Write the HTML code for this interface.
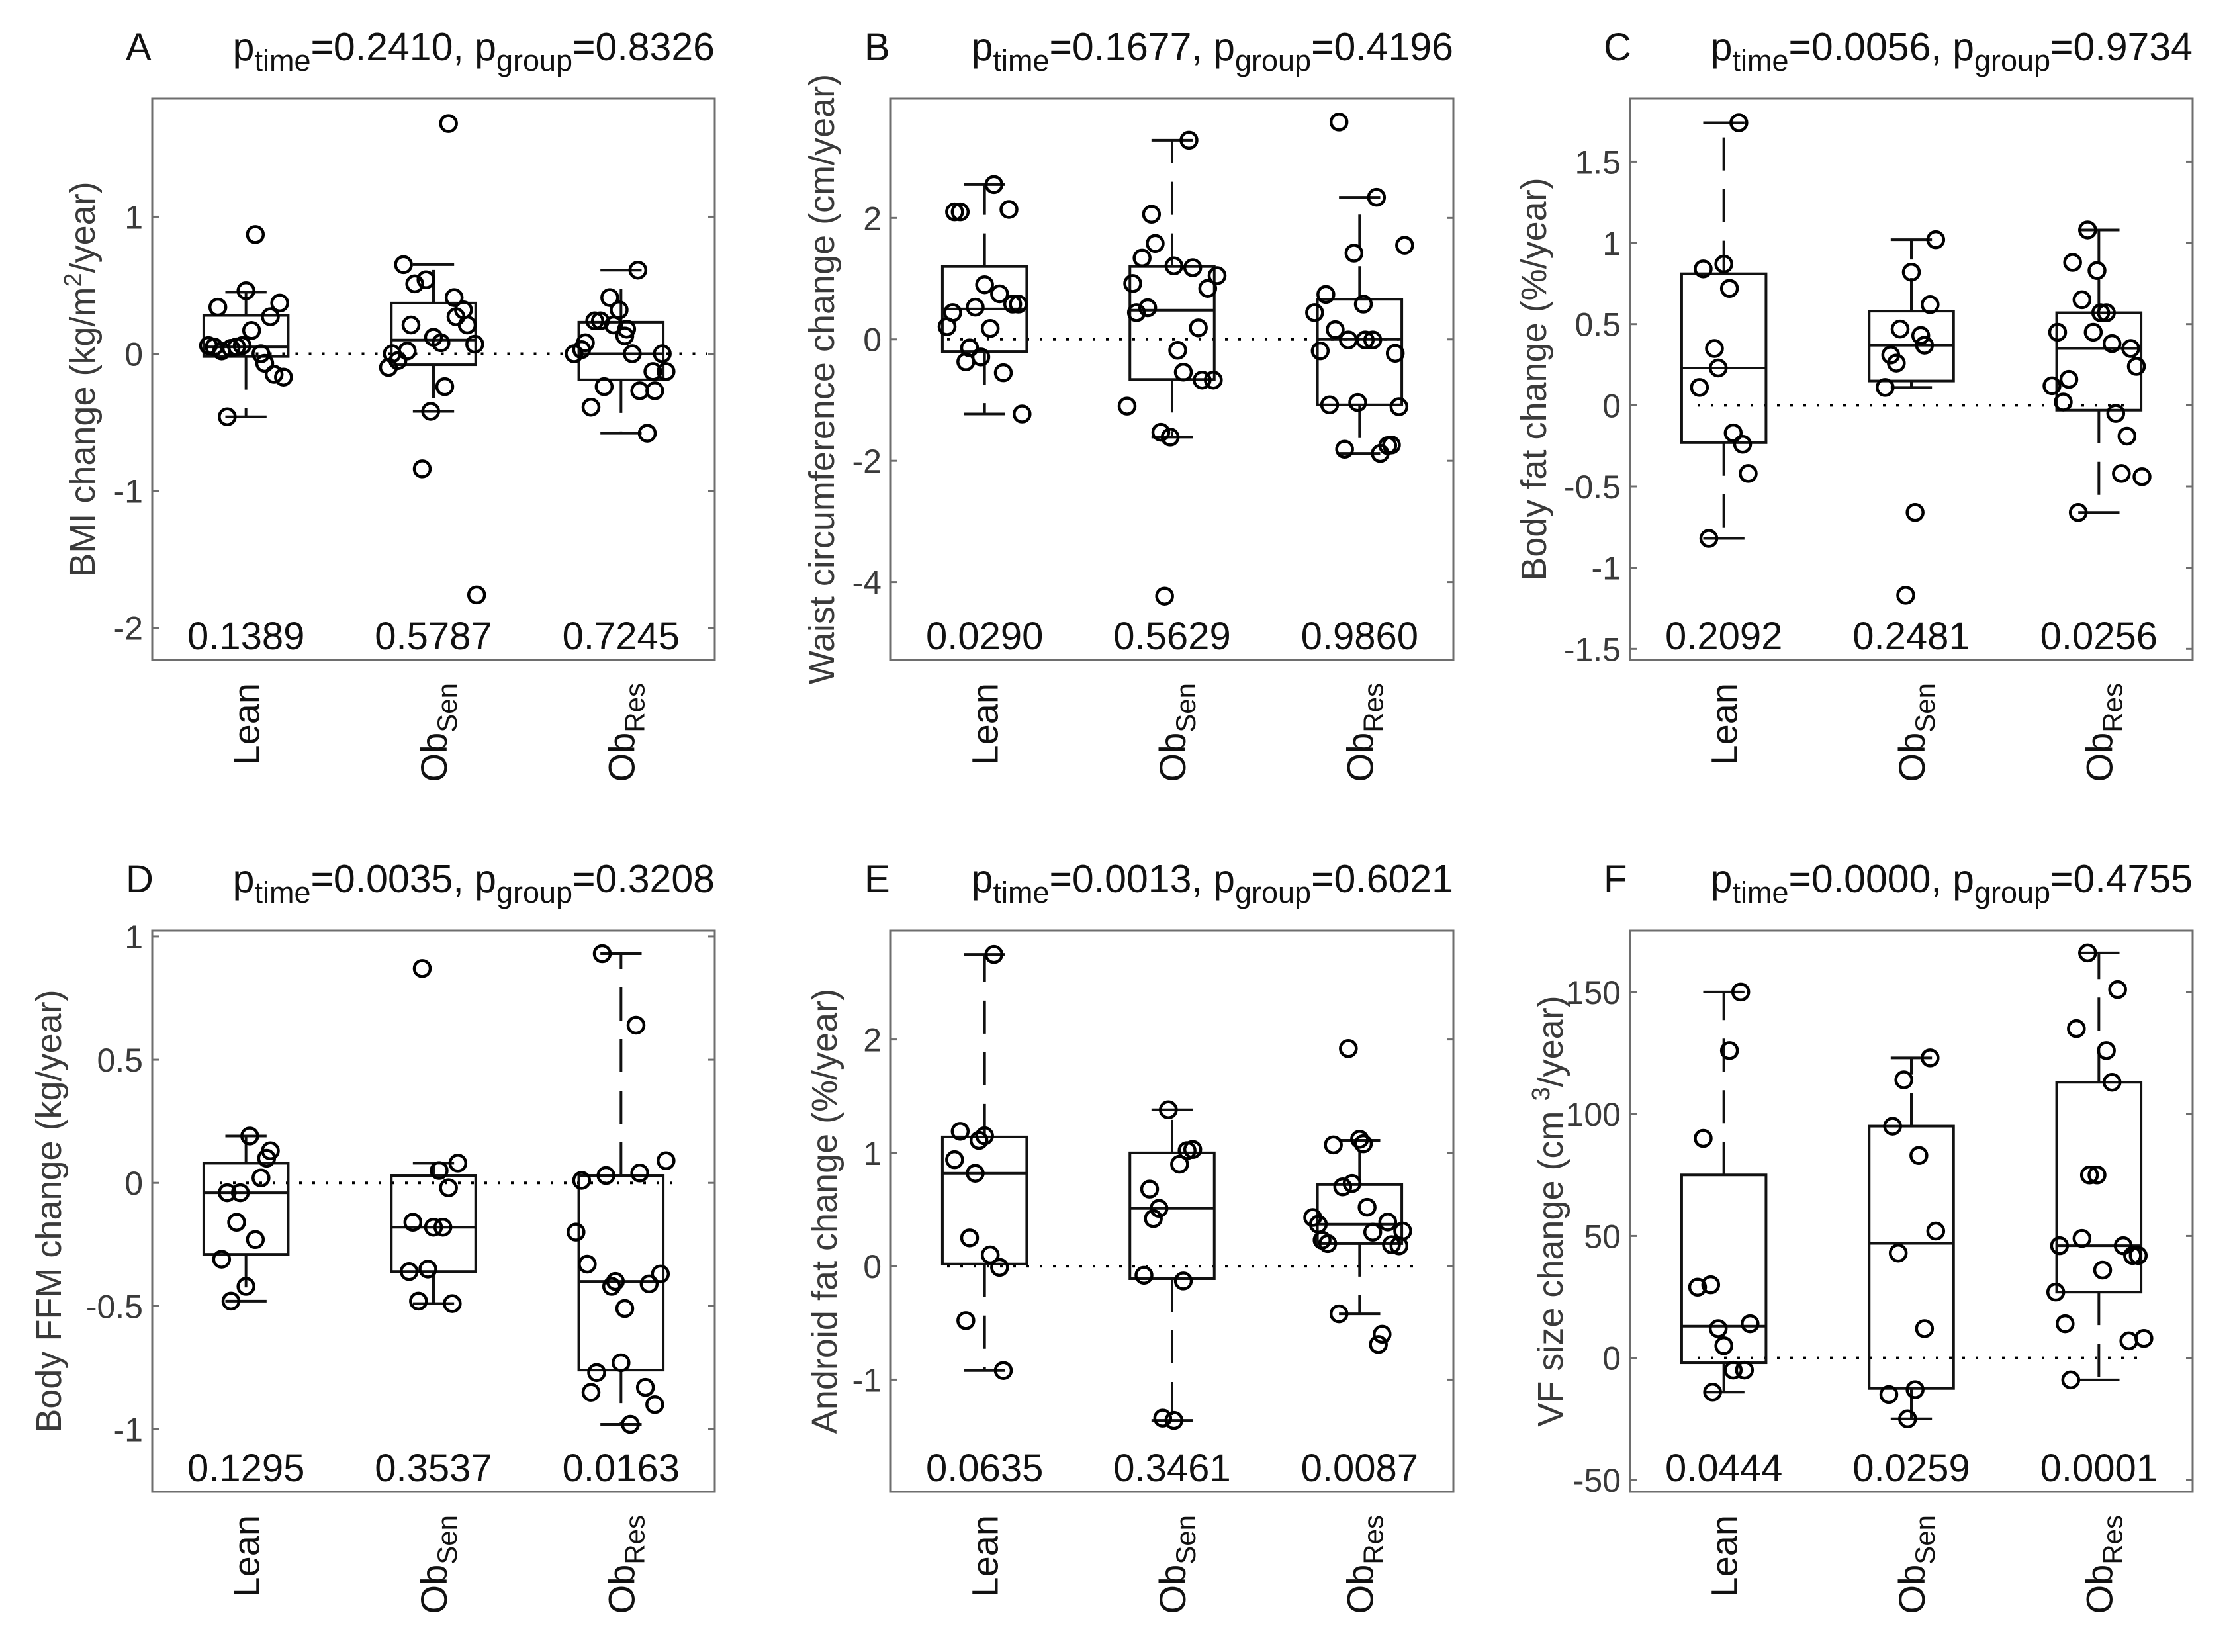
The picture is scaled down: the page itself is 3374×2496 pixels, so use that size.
<!DOCTYPE html>
<html><head><meta charset="utf-8"><style>
html,body{margin:0;padding:0;background:#fff;}
svg{display:block;font-family:"Liberation Sans",Arial,sans-serif;}
</style></head><body>
<svg id="fig" width="3374" height="2496" viewBox="0 0 3374 2496" xmlns="http://www.w3.org/2000/svg"></svg>
<script>
const groups = ["Lean","Sen","Res"];
// Panel A
const valsA = [[0.87,0.46,0.34,0.37,0.27,0.17,0.06,0.05,0.02,0.04,0.05,0.06,0.0,-0.07,-0.15,-0.17,-0.46],
 [1.68,0.65,0.51,0.54,0.41,0.32,0.27,0.21,0.21,0.12,0.08,0.07,0.0,0.02,-0.05,-0.10,-0.24,-0.42,-0.84,-1.76],
 [0.61,0.41,0.32,0.24,0.24,0.21,0.18,0.13,0.08,0.03,0.0,0.0,0.0,-0.13,-0.13,-0.24,-0.27,-0.27,-0.39,-0.58]];
const jitA = [[0.05,0,-0.15,0.18,0.13,0.03,-0.2,-0.17,-0.13,-0.08,-0.05,-0.02,0.08,0.1,0.15,0.2,-0.1],
 [0.08,-0.16,-0.1,-0.04,0.11,0.16,0.12,0.18,-0.12,0,0.04,0.22,-0.22,-0.14,-0.19,-0.24,0.06,-0.015,-0.06,0.23],
 [0.09,-0.06,-0.01,-0.14,-0.11,-0.04,0.03,0.02,-0.19,-0.21,-0.25,0.06,0.22,0.17,0.24,-0.09,0.1,0.18,-0.16,0.14]];
const boxA = [[-0.02,0.05,0.28,-0.46,0.45],[-0.08,0.10,0.37,-0.42,0.65],[-0.19,0.0,0.23,-0.58,0.61]];
const pvA = ["0.1389","0.5787","0.7245"];
const ticksA = [1,0,-1,-2];
// Panel B
const valsB = [[2.55,2.1,2.1,2.14,0.9,0.75,0.53,0.58,0.58,0.44,0.21,0.18,-0.14,-0.29,-0.37,-0.55,-1.23],
 [3.28,2.06,1.58,1.34,1.21,1.18,1.05,0.92,0.84,0.52,0.44,0.19,-0.18,-0.54,-0.67,-0.67,-1.10,-1.53,-1.61,-4.23],
 [3.58,2.34,1.55,1.42,0.74,0.44,0.58,0.16,-0.01,-0.01,-0.01,-0.19,-0.23,-1.08,-1.04,-1.11,-1.81,-1.88,-1.75,-1.74]];
const jitB = [[0.05,-0.16,-0.13,0.13,0,0.08,-0.05,0.15,0.18,-0.17,-0.2,0.03,-0.08,-0.02,-0.1,0.1,0.2],
 [0.09,-0.11,-0.09,-0.16,0.01,0.11,0.24,-0.21,0.19,-0.13,-0.19,0.14,0.03,0.06,0.16,0.22,-0.24,-0.06,-0.01,-0.04],
 [-0.11,0.09,0.24,-0.03,-0.18,-0.24,0.02,-0.13,-0.06,0.03,0.07,-0.21,0.19,-0.16,-0.01,0.21,-0.08,0.11,0.15,0.17]];
const boxB = [[-0.2,0.5,1.2,-1.23,2.55],[-0.66,0.48,1.2,-1.61,3.28],[-1.08,0.0,0.66,-1.88,2.34]];
const pvB = ["0.0290","0.5629","0.9860"];
const ticksB = [2,0,-2,-4];
// Panel C
const valsC = [[1.74,0.87,0.84,0.72,0.35,0.23,0.11,-0.17,-0.24,-0.42,-0.82],
 [1.02,0.82,0.62,0.47,0.43,0.37,0.31,0.26,0.11,-0.66,-1.17],
 [1.08,0.88,0.83,0.65,0.57,0.57,0.45,0.45,0.38,0.35,0.24,0.16,0.12,0.02,-0.05,-0.19,-0.42,-0.44,-0.66]];
const jitC = [[0.08,0,-0.11,0.03,-0.05,-0.03,-0.13,0.05,0.1,0.13,-0.08],
 [0.13,0,0.1,-0.06,0.05,0.07,-0.11,-0.08,-0.14,0.02,-0.03],
 [-0.06,-0.14,-0.01,-0.09,0.01,0.04,-0.22,-0.03,0.07,0.17,0.2,-0.16,-0.25,-0.19,0.09,0.15,0.12,0.23,-0.11]];
const boxC = [[-0.23,0.23,0.81,-0.82,1.74],[0.15,0.37,0.58,0.11,1.02],[-0.03,0.35,0.57,-0.66,1.08]];
const pvC = ["0.2092","0.2481","0.0256"];
const ticksC = [1.5,1,0.5,0,-0.5,-1,-1.5];
// Panel D
const valsD = [[0.19,0.13,0.1,0.02,-0.04,-0.04,-0.16,-0.23,-0.31,-0.42,-0.48],
 [0.87,0.08,0.05,-0.02,-0.16,-0.18,-0.18,-0.36,-0.35,-0.48,-0.49],
 [0.93,0.64,0.09,0.03,0.04,0.01,-0.20,-0.33,-0.37,-0.40,-0.42,-0.41,-0.51,-0.73,-0.77,-0.83,-0.85,-0.90,-0.98]];
const jitD = [[0.02,0.13,0.11,0.08,-0.1,-0.03,-0.05,0.05,-0.13,0,-0.08],
 [-0.06,0.13,0.03,0.08,-0.11,0,0.05,-0.13,-0.03,-0.08,0.1],
 [-0.1,0.08,0.24,-0.08,0.1,-0.21,-0.24,-0.18,0.21,-0.03,-0.05,0.15,0.02,0,-0.13,0.13,-0.16,0.18,0.05]];
const boxD = [[-0.29,-0.04,0.08,-0.48,0.19],[-0.36,-0.18,0.03,-0.49,0.08],[-0.76,-0.40,0.03,-0.98,0.93]];
const pvD = ["0.1295","0.3537","0.0163"];
const ticksD = [1,0.5,0,-0.5,-1];
// Panel E
const valsE = [[2.75,1.19,1.15,1.11,0.94,0.82,0.25,0.1,-0.01,-0.48,-0.92],
 [1.38,1.03,1.02,0.9,0.68,0.51,0.42,-0.08,-0.13,-1.34,-1.36],
 [1.92,1.07,1.12,1.08,0.73,0.7,0.52,0.43,0.37,0.39,0.31,0.3,0.23,0.2,0.19,0.18,-0.42,-0.6,-0.69]];
const jitE = [[0.05,-0.13,0,-0.03,-0.16,-0.05,-0.08,0.03,0.08,-0.1,0.1],
 [-0.02,0.11,0.08,0.04,-0.12,-0.07,-0.1,-0.15,0.06,-0.05,0.01],
 [-0.06,-0.14,0,0.02,-0.04,-0.09,0.04,-0.25,-0.22,0.15,0.23,0.07,-0.2,-0.17,0.17,0.21,-0.11,0.12,0.1]];
const boxE = [[0.02,0.82,1.14,-0.92,2.75],[-0.11,0.51,1.0,-1.36,1.38],[0.2,0.37,0.72,-0.42,1.11]];
const pvE = ["0.0635","0.3461","0.0087"];
const ticksE = [2,1,0,-1];
// Panel F
const valsF = [[150,126,90,29,30,12,14,5,-5,-5,-14],
 [123,114,95,83,52,43,12,-15,-13,-25],
 [166,151,135,126,113,75,75,49,46,46,42,42,36,27,14,8,7,-9]];
const jitF = [[0.09,0.03,-0.11,-0.14,-0.07,-0.03,0.14,0,0.05,0.11,-0.06],
 [0.1,-0.04,-0.1,0.04,0.13,-0.07,0.07,-0.12,0.02,-0.02],
 [-0.06,0.1,-0.12,0.04,0.07,-0.05,-0.01,-0.09,-0.21,0.13,0.18,0.21,0.02,-0.23,-0.18,0.24,0.16,-0.15]];
const boxF = [[-2,13,75,-14,150],[-12.5,47,95,-25,123],[27,46,113,-9,166]];
const pvF = ["0.0444","0.0259","0.0001"];
const ticksF = [150,100,50,0,-50];

const NS = "http://www.w3.org/2000/svg";
const svg = document.getElementById("fig");
function mk(tag, attrs, parent){
  const e = document.createElementNS(NS, tag);
  for (const k in attrs) e.setAttribute(k, attrs[k]);
  (parent||svg).appendChild(e);
  return e;
}
const panels = [
 {id:"a",L:"A",x0:230,y0:149,ymin:-2.234,ymax:1.862,ticks:ticksA,vals:valsA,jit:jitA,box:boxA,pv:pvA,pt:"0.2410",pg:"0.8326",
  yt:'BMI change (kg/m<tspan dy="-20" font-size="38">2</tspan><tspan dy="20">/year)</tspan>',ytx:125,dz:[0.77,3.46]},
 {id:"b",L:"B",x0:1346,y0:149,ymin:-5.28,ymax:3.966,ticks:ticksB,vals:valsB,jit:jitB,box:boxB,pv:pvB,pt:"0.1677",pg:"0.4196",
  yt:'Waist circumference change (cm/year)',ytx:1242,dz:[0.8,3.21]},
 {id:"c",L:"C",x0:2463,y0:149,ymin:-1.568,ymax:1.889,ticks:ticksC,vals:valsC,jit:jitC,box:boxC,pv:pvC,pt:"0.0056",pg:"0.9734",
  yt:'Body fat change (%/year)',ytx:2318,dz:[0.86,3.16]},
 {id:"d",L:"D",x0:230,y0:1406,ymin:-1.254,ymax:1.024,ticks:ticksD,vals:valsD,jit:jitD,box:boxD,pv:pvD,pt:"0.0035",pg:"0.3208",
  yt:'Body FFM change (kg/year)',ytx:74,dz:[0.86,3.3]},
 {id:"e",L:"E",x0:1346,y0:1406,ymin:-1.99,ymax:2.961,ticks:ticksE,vals:valsE,jit:jitE,box:boxE,pv:pvE,pt:"0.0013",pg:"0.6021",
  yt:'Android fat change (%/year)',ytx:1246,dz:[0.8,3.3]},
 {id:"f",L:"F",x0:2463,y0:1406,ymin:-54.9,ymax:175.2,ticks:ticksF,vals:valsF,jit:jitF,box:boxF,pv:pvF,pt:"0.0000",pg:"0.4755",
  yt:'VF size change (cm <tspan dy="-20" font-size="38">3</tspan><tspan dy="20">/year)</tspan>',ytx:2343,dz:[0.86,3.24]}
];
const W = 850, H = 848, BW = 0.45, CW = 0.22;
panels.forEach(p => {
  const g = mk("g", {});
  
  
  const xs = u => p.x0 + (u - 0.5) / 3 * W;
  const ys = v => p.y0 + (p.ymax - v) / (p.ymax - p.ymin) * H;
  const zl = mk("line", {x1:xs(p.dz[0]), x2:xs(p.dz[1]), y1:ys(0), y2:ys(0), stroke:"#000", "stroke-width":4, "stroke-dasharray":"4 16"}, g);
  
  
  p.box.forEach((b, i) => {
    const c = i + 1;
    const bg = mk("g", {fill:"none", stroke:"#111", "stroke-width":4}, g);
    
    
    mk("rect", {x:xs(c - BW/2), y:ys(b[2]), width:xs(c + BW/2) - xs(c - BW/2), height:ys(b[0]) - ys(b[2])}, bg);
    mk("line", {x1:xs(c - BW/2), x2:xs(c + BW/2), y1:ys(b[1]), y2:ys(b[1])}, bg);
    mk("line", {x1:xs(c), x2:xs(c), y1:ys(b[2]), y2:ys(b[4]), "stroke-dasharray":"50 28"}, bg);
    mk("line", {x1:xs(c), x2:xs(c), y1:ys(b[0]), y2:ys(b[3]), "stroke-dasharray":"50 28"}, bg);
    mk("line", {x1:xs(c - CW/2), x2:xs(c + CW/2), y1:ys(b[4]), y2:ys(b[4])}, bg);
    mk("line", {x1:xs(c - CW/2), x2:xs(c + CW/2), y1:ys(b[3]), y2:ys(b[3])}, bg);
  });
  p.vals.forEach((arr, i) => {
    arr.forEach((v, j) => {
      const pt = mk("circle", {cx:xs(i + 1 + p.jit[i][j]), cy:ys(v), r:12, fill:"none", stroke:"#000", "stroke-width":4.5}, g);
      
      
    });
  });
  const fr = mk("rect", {x:p.x0, y:p.y0, width:W, height:H, fill:"none", stroke:"#6e6e6e", "stroke-width":3}, g);
  
  
  p.ticks.forEach(t => {
    const y = ys(t);
    mk("line", {x1:p.x0, x2:p.x0 + 10, y1:y, y2:y, stroke:"#6e6e6e", "stroke-width":3}, g);
    mk("line", {x1:p.x0 + W - 10, x2:p.x0 + W, y1:y, y2:y, stroke:"#6e6e6e", "stroke-width":3}, g);
    const tl = mk("text", {x:p.x0 - 14, y:y + 18, "text-anchor":"end", "font-size":50, fill:"#3a3a3a"}, g);
    tl.textContent = String(t);
    
    
  });
  p.pv.forEach((s, i) => {
    const t = mk("text", {x:xs(i + 1), y:p.y0 + 832, "text-anchor":"middle", "font-size":58, fill:"#111"}, g);
    t.textContent = s;
    
    
  });
  const xl = [["Lean",""],["Ob","Sen"],["Ob","Res"]];
  xl.forEach((l, i) => {
    const t = mk("text", {transform:`translate(${xs(i + 1) + 20},${p.y0 + H + 35}) rotate(-90)`, "text-anchor":"end", "font-size":56, fill:"#111"}, g);
    t.innerHTML = l[1] ? `${l[0]}<tspan dy="15" font-size="42">${l[1]}</tspan>` : l[0];
    
    
  });
  const yt = mk("text", {transform:`translate(${p.ytx + 18},${p.y0 + H/2}) rotate(-90)`, "text-anchor":"middle", "font-size":54, fill:"#3a3a3a"}, g);
  yt.innerHTML = p.yt;
  
  
  const ty = p.y0 - 58;
  const lt = mk("text", {x:p.x0 - 40, y:ty, "font-size":58, fill:"#111"}, g);
  lt.textContent = p.L;
  
  
  const tt = mk("text", {x:p.x0 + W, y:ty, "text-anchor":"end", "font-size":59, fill:"#111"}, g);
  tt.innerHTML = `p<tspan dy="16" font-size="45">time</tspan><tspan dy="-16">=${p.pt}, p</tspan><tspan dy="16" font-size="45">group</tspan><tspan dy="-16">=${p.pg}</tspan>`;
  
  
});
</script>
</body></html>
